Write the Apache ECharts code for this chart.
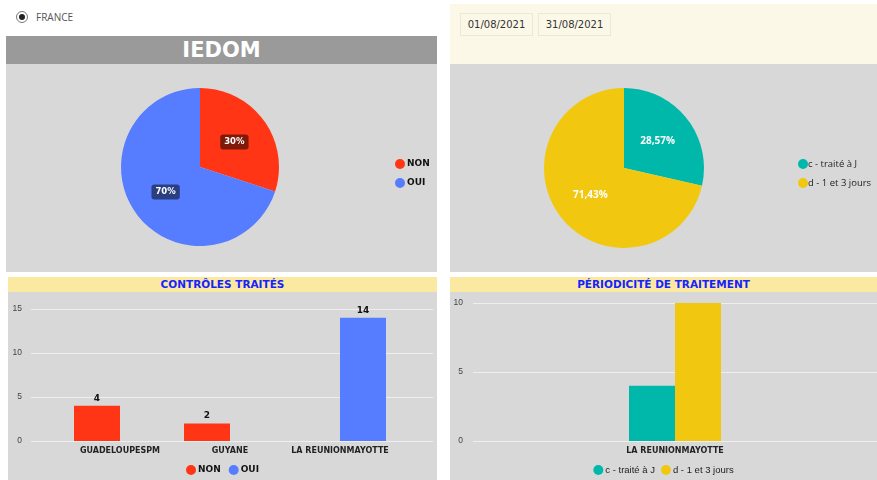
<!DOCTYPE html>
<html>
<head>
<meta charset="utf-8">
<script src="https://cdn.jsdelivr.net/npm/echarts@6/dist/echarts.min.js"></script>
<style>
  body { margin: 0; width: 877px; height: 480px; background: #fff; position: relative; overflow: hidden; font-family: "DejaVu Sans", sans-serif; }
  .abs { position: absolute; }
  .radio { left: 16px; top: 11px; width: 10px; height: 10px; border: 1px solid #777; border-radius: 50%; background: #fff; }
  .radio::after { content: ''; position: absolute; left: 2px; top: 2px; width: 6px; height: 6px; border-radius: 50%; background: #222; }
  .france { left: 36px; top: 10px; font: 10px "Open Sans", sans-serif; color: #555; }
  .header { left: 6px; top: 36px; width: 431px; height: 28px; background: #9a9a9a; color: #fff; font: bold 21px "DejaVu Sans", sans-serif; text-align: center; line-height: 28px; }
  .cream { left: 450px; top: 4px; width: 427px; height: 60px; background: #fcf8e8; }
  .date { top: 13px; height: 21px; width: 71px; border: 1px solid #ece8d8; font: 10px "DejaVu Sans", sans-serif; color: #333; text-align: center; line-height: 21px; }
  .panel { background: #d8d8d8; }
  .band { height: 15px; background: #fbe8a1; color: #1424ff; font: bold 10.5px "DejaVu Sans", sans-serif; text-align: center; line-height: 15px; }
</style>
</head>
<body>
<div class="abs radio"></div>
<div class="abs france">FRANCE</div>
<div class="abs header">IEDOM</div>
<div class="abs cream"></div>
<div class="abs date" style="left:460px">01/08/2021</div>
<div class="abs date" style="left:538px">31/08/2021</div>
<div id="pieIedom" class="abs panel" style="left:6px;top:64px;width:431px;height:208px"></div>
<div id="piePeriod" class="abs panel" style="left:450px;top:64px;width:427px;height:208px"></div>
<div class="abs band" style="left:8px;top:277px;width:429px">CONTRÔLES TRAITÉS</div>
<div class="abs band" style="left:450px;top:277px;width:427px">PÉRIODICITÉ DE TRAITEMENT</div>
<div id="barControles" class="abs panel" style="left:8px;top:292px;width:429px;height:188px"></div>
<div id="barPeriod" class="abs panel" style="left:450px;top:292px;width:427px;height:188px"></div>
<script>
// données
const statusNames = ['NON', 'OUI']
const statusTotals = [6, 14]
const periodNames = ['c - traité à J', 'd - 1 et 3 jours']
const periodTotals = [4, 10]
const regions = ['GUADELOUPESPM', 'GUYANE', 'LA REUNIONMAYOTTE']
const nonValues = [4, 2, null]
const ouiValues = [null, null, 14]
const periodRegions = ['LA REUNIONMAYOTTE']
const traiteJValues = [4]
const unATroisValues = [10]

const statusColors = ['#ff3515', '#567cff']
const periodColors = ['#00b8aa', '#f1c80f']
const boldFont = 'DejaVu Sans'

// camembert IEDOM
const pieIedom = echarts.init(document.getElementById('pieIedom'))
pieIedom.setOption({
  color: statusColors,
  legend: {
    orient: 'vertical', left: 384, top: 90, icon: 'circle',
    itemWidth: 10, itemHeight: 10, itemGap: 9,
    textStyle: { fontFamily: boldFont, fontWeight: 'bold', fontSize: 9, color: '#111', padding: [0, 0, 0, -3] }
  },
  series: [{
    type: 'pie', center: [194, 103], radius: 79, startAngle: 90,
    label: {
      position: 'inside', formatter: p => Math.round(p.percent) + '%',
      color: '#fff', fontFamily: boldFont, fontWeight: 'bold', fontSize: 8.5,
      backgroundColor: 'rgba(0,0,0,0.5)', borderRadius: 3, padding: [3, 4]
    },
    labelLine: { show: false },
    data: statusNames.map((n, i) => ({ name: n, value: statusTotals[i] }))
  }]
})

// camembert périodicité
const piePeriod = echarts.init(document.getElementById('piePeriod'))
piePeriod.setOption({
  color: periodColors,
  legend: {
    orient: 'vertical', left: 343, top: 90, icon: 'circle',
    itemWidth: 10, itemHeight: 10, itemGap: 9,
    textStyle: { fontFamily: 'Open Sans', fontSize: 9.5, color: '#222', padding: [0, 0, 0, -5] }
  },
  series: [{
    type: 'pie', center: [174, 104], radius: 80, startAngle: 90,
    label: {
      position: 'inside', formatter: p => p.percent.toFixed(2).replace('.', ',') + '%',
      color: '#fff', fontFamily: 'Open Sans', fontWeight: 'bold', fontSize: 10
    },
    labelLine: { show: false },
    data: periodNames.map((n, i) => ({ name: n, value: periodTotals[i] }))
  }]
})

// barres contrôles traités
const barControles = echarts.init(document.getElementById('barControles'))
const barLabel = { show: true, position: 'top', fontFamily: boldFont, fontWeight: 'bold', fontSize: 9, color: '#111', distance: 3 }
barControles.setOption({
  color: statusColors,
  legend: {
    bottom: 0, left: 'center', icon: 'circle', itemWidth: 10, itemHeight: 10, itemGap: 8,
    data: statusNames,
    textStyle: { fontFamily: boldFont, fontWeight: 'bold', fontSize: 9, color: '#111', padding: [0, 0, 0, -3] }
  },
  grid: [
    { left: 23, right: 4, top: 17, bottom: 39 },
    { left: 57, width: 330, top: 17, bottom: 39 }
  ],
  xAxis: [
    { gridIndex: 0, type: 'category', data: [''], show: false },
    {
      gridIndex: 1, type: 'category', data: regions,
      axisLine: { show: false }, axisTick: { show: false },
      axisLabel: { interval: 0, fontFamily: boldFont, fontWeight: 'bold', fontSize: 8, color: '#222', margin: 6 }
    }
  ],
  yAxis: [
    {
      gridIndex: 0, type: 'value', min: 0, max: 15, interval: 5,
      axisLabel: { fontSize: 8.5, color: '#444', margin: 9 },
      splitLine: { lineStyle: { color: '#efefef', width: 1 } }
    },
    { gridIndex: 1, type: 'value', min: 0, max: 15, interval: 5, show: false, splitLine: { show: false } }
  ],
  series: [
    { name: 'NON', type: 'bar', xAxisIndex: 1, yAxisIndex: 1, data: nonValues, barWidth: 46, barGap: '0%', label: barLabel },
    { name: 'OUI', type: 'bar', xAxisIndex: 1, yAxisIndex: 1, data: ouiValues, barWidth: 46, barGap: '0%', label: barLabel }
  ]
})

// barres périodicité
const barPeriod = echarts.init(document.getElementById('barPeriod'))
barPeriod.setOption({
  color: periodColors,
  legend: {
    bottom: 0, left: 'center', icon: 'circle', itemWidth: 10, itemHeight: 10, itemGap: 6,
    data: periodNames,
    textStyle: { fontFamily: 'Liberation Sans', fontSize: 9.5, color: '#222', padding: [0, 0, 0, -3] }
  },
  grid: { left: 23, right: 0, top: 11, bottom: 39 },
  xAxis: {
    type: 'category', data: periodRegions,
    axisLine: { show: false }, axisTick: { show: false },
    axisLabel: { fontFamily: boldFont, fontWeight: 'bold', fontSize: 8, color: '#222', margin: 6 }
  },
  yAxis: {
    type: 'value', min: 0, max: 10, interval: 5,
    axisLabel: { fontSize: 8.5, color: '#444', margin: 10 },
    splitLine: { lineStyle: { color: '#efefef', width: 1 } }
  },
  series: [
    { name: periodNames[0], type: 'bar', data: traiteJValues, barWidth: 46, barGap: '0%' },
    { name: periodNames[1], type: 'bar', data: unATroisValues, barWidth: 46, barGap: '0%' }
  ]
})
</script>
</body>
</html>
